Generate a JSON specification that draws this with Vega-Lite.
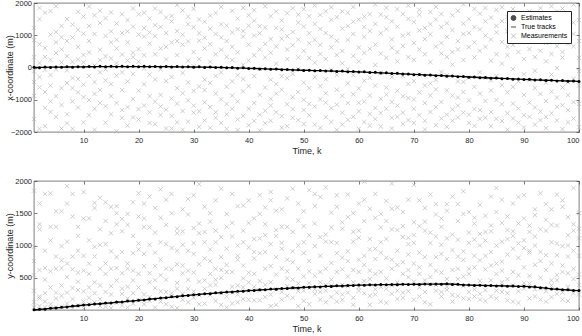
{
"$schema": "https://vega.github.io/schema/vega-lite/v6.json",
"padding": {"left": 4, "top": -2, "right": 0, "bottom": 0},
"background": "white",
"spacing": 20,
"config": {
  "font": "Liberation Sans",
  "view": {"stroke": "#262626", "strokeWidth": 0.6},
  "axis": {"domain": false, "grid": false, "tickSize": -3, "tickColor": "#262626", "tickWidth": 0.6, "labelFontSize": 7.5, "labelColor": "#262626", "titleFontSize": 9, "titleFontWeight": "normal", "titleColor": "#262626", "format": "d"},
  "axisX": {"labelPadding": 7, "titlePadding": 3},
  "axisY": {"labelPadding": 5.5},
  "legend": {"orient": "top-right", "offset": 8, "strokeColor": "#262626", "fillColor": "white", "padding": 3, "labelFontSize": 7, "labelColor": "black", "rowPadding": 1, "symbolSize": 24, "symbolStrokeWidth": 1, "labelOffset": 4, "clipHeight": 8}
},
"datasets": {
"meas": [
{"k":1,"x":-450,"y":760},{"k":1,"x":1230,"y":120},{"k":1,"x":-880,"y":540},{"k":1,"x":320,"y":1850},{"k":1,"x":-1600,"y":300},{"k":1,"x":850,"y":40},{"k":1,"x":-120,"y":980},
{"k":2,"x":1850,"y":1650},{"k":2,"x":-620,"y":180},{"k":2,"x":140,"y":1330},{"k":2,"x":-1900,"y":620},{"k":2,"x":720,"y":210},{"k":2,"x":-300,"y":60},{"k":2,"x":1500,"y":1250},
{"k":3,"x":-1250,"y":920},{"k":3,"x":600,"y":40},{"k":3,"x":-70,"y":1800},{"k":3,"x":1700,"y":470},{"k":3,"x":-760,"y":260},{"k":3,"x":330,"y":650},{"k":3,"x":-1820,"y":130},
{"k":4,"x":1020,"y":1810},{"k":4,"x":-1380,"y":350},{"k":4,"x":-230,"y":90},{"k":4,"x":1750,"y":1290},{"k":4,"x":-560,"y":600},{"k":4,"x":240,"y":1080},{"k":4,"x":-1050,"y":30},
{"k":5,"x":1900,"y":1530},{"k":5,"x":-1530,"y":830},{"k":5,"x":450,"y":270},{"k":5,"x":-890,"y":40},{"k":5,"x":1100,"y":180},{"k":5,"x":-60,"y":640},{"k":5,"x":780,"y":1290},
{"k":6,"x":-1160,"y":990},{"k":6,"x":1290,"y":770},{"k":6,"x":-640,"y":50},{"k":6,"x":560,"y":1530},{"k":6,"x":-1890,"y":380},{"k":6,"x":160,"y":220},{"k":6,"x":940,"y":650},
{"k":7,"x":1500,"y":1920},{"k":7,"x":-1450,"y":1060},{"k":7,"x":-480,"y":270},{"k":7,"x":820,"y":100},{"k":7,"x":-1730,"y":510},{"k":7,"x":350,"y":1650},{"k":7,"x":-90,"y":720},
{"k":8,"x":-1900,"y":1800},{"k":8,"x":930,"y":630},{"k":8,"x":-640,"y":170},{"k":8,"x":180,"y":1450},{"k":8,"x":-1050,"y":20},{"k":8,"x":1330,"y":340},{"k":8,"x":-330,"y":830},
{"k":9,"x":1170,"y":1290},{"k":9,"x":-360,"y":580},{"k":9,"x":250,"y":70},{"k":9,"x":-1240,"y":920},{"k":9,"x":1730,"y":310},{"k":9,"x":-770,"y":440},{"k":9,"x":640,"y":1150},
{"k":10,"x":-1700,"y":1420},{"k":10,"x":390,"y":840},{"k":10,"x":-530,"y":130},{"k":10,"x":1050,"y":1830},{"k":10,"x":-920,"y":290},{"k":10,"x":160,"y":610},{"k":10,"x":1580,"y":20},
{"k":11,"x":820,"y":1080},{"k":11,"x":-1480,"y":190},{"k":11,"x":1290,"y":560},{"k":11,"x":-260,"y":1420},{"k":11,"x":470,"y":90},{"k":11,"x":-1010,"y":720},{"k":11,"x":1890,"y":350},
{"k":12,"x":-1930,"y":1660},{"k":12,"x":1620,"y":1580},{"k":12,"x":-450,"y":260},{"k":12,"x":60,"y":980},{"k":12,"x":-820,"y":120},{"k":12,"x":1040,"y":430},{"k":12,"x":-1280,"y":830},
{"k":13,"x":550,"y":1740},{"k":13,"x":-1100,"y":1010},{"k":13,"x":1380,"y":60},{"k":13,"x":-700,"y":380},{"k":13,"x":230,"y":1250},{"k":13,"x":1760,"y":640},{"k":13,"x":-150,"y":170},
{"k":14,"x":-1710,"y":1380},{"k":14,"x":980,"y":280},{"k":14,"x":-400,"y":720},{"k":14,"x":1530,"y":1020},{"k":14,"x":-1200,"y":50},{"k":14,"x":350,"y":560},{"k":14,"x":-60,"y":1670},
{"k":15,"x":1120,"y":1600},{"k":15,"x":-890,"y":240},{"k":15,"x":1710,"y":910},{"k":15,"x":-1450,"y":640},{"k":15,"x":280,"y":30},{"k":15,"x":-520,"y":1190},{"k":15,"x":780,"y":370},
{"k":16,"x":-1980,"y":1610},{"k":16,"x":590,"y":1500},{"k":16,"x":-250,"y":820},{"k":16,"x":1360,"y":110},{"k":16,"x":-1100,"y":460},{"k":16,"x":860,"y":1330},{"k":16,"x":140,"y":650},
{"k":17,"x":1650,"y":570},{"k":17,"x":-1320,"y":1410},{"k":17,"x":-700,"y":70},{"k":17,"x":400,"y":330},{"k":17,"x":-1560,"y":900},{"k":17,"x":1070,"y":1220},{"k":17,"x":-150,"y":250},
{"k":18,"x":-1230,"y":1490},{"k":18,"x":1470,"y":180},{"k":18,"x":-430,"y":640},{"k":18,"x":780,"y":1320},{"k":18,"x":-1800,"y":360},{"k":18,"x":220,"y":720},{"k":18,"x":1120,"y":40},
{"k":19,"x":460,"y":880},{"k":19,"x":-1550,"y":1150},{"k":19,"x":1830,"y":260},{"k":19,"x":-980,"y":460},{"k":19,"x":320,"y":1670},{"k":19,"x":-200,"y":100},{"k":19,"x":1270,"y":610},
{"k":20,"x":-1610,"y":1810},{"k":20,"x":1020,"y":1450},{"k":20,"x":-720,"y":350},{"k":20,"x":180,"y":560},{"k":20,"x":1650,"y":940},{"k":20,"x":-1290,"y":150},{"k":20,"x":570,"y":1030},
{"k":21,"x":1700,"y":1650},{"k":21,"x":-520,"y":1290},{"k":21,"x":960,"y":90},{"k":21,"x":-1180,"y":680},{"k":21,"x":380,"y":1420},{"k":21,"x":-30,"y":240},{"k":21,"x":1220,"y":870},
{"k":22,"x":-1390,"y":1010},{"k":22,"x":740,"y":1760},{"k":22,"x":-890,"y":430},{"k":22,"x":1520,"y":200},{"k":22,"x":-220,"y":570},{"k":22,"x":1090,"y":1280},{"k":22,"x":-1720,"y":140},
{"k":23,"x":1830,"y":1580},{"k":23,"x":-1060,"y":340},{"k":23,"x":410,"y":1200},{"k":23,"x":-1760,"y":890},{"k":23,"x":970,"y":40},{"k":23,"x":-370,"y":680},{"k":23,"x":1310,"y":460},
{"k":24,"x":-850,"y":1870},{"k":24,"x":1260,"y":290},{"k":24,"x":-1470,"y":1050},{"k":24,"x":590,"y":780},{"k":24,"x":-60,"y":130},{"k":24,"x":1720,"y":1430},{"k":24,"x":-1210,"y":540},
{"k":25,"x":1070,"y":1320},{"k":25,"x":-1310,"y":1710},{"k":25,"x":1550,"y":470},{"k":25,"x":-420,"y":90},{"k":25,"x":640,"y":1020},{"k":25,"x":-1890,"y":640},{"k":25,"x":250,"y":280},
{"k":26,"x":-1890,"y":1800},{"k":26,"x":1430,"y":630},{"k":26,"x":-960,"y":210},{"k":26,"x":780,"y":1500},{"k":26,"x":-300,"y":960},{"k":26,"x":1600,"y":260},{"k":26,"x":-1500,"y":50},
{"k":27,"x":1940,"y":1190},{"k":27,"x":-1120,"y":1260},{"k":27,"x":380,"y":420},{"k":27,"x":-640,"y":710},{"k":27,"x":1130,"y":30},{"k":27,"x":-1700,"y":330},{"k":27,"x":820,"y":920},
{"k":28,"x":-1350,"y":1220},{"k":28,"x":710,"y":1560},{"k":28,"x":-800,"y":570},{"k":28,"x":1770,"y":160},{"k":28,"x":-170,"y":1010},{"k":28,"x":1020,"y":690},{"k":28,"x":-1930,"y":250},
{"k":29,"x":1580,"y":1720},{"k":29,"x":-460,"y":330},{"k":29,"x":810,"y":920},{"k":29,"x":-1680,"y":1480},{"k":29,"x":210,"y":120},{"k":29,"x":-1020,"y":610},{"k":29,"x":1340,"y":470},
{"k":30,"x":-1400,"y":1040},{"k":30,"x":1250,"y":1780},{"k":30,"x":-730,"y":190},{"k":30,"x":480,"y":580},{"k":30,"x":1820,"y":290},{"k":30,"x":-1180,"y":870},{"k":30,"x":40,"y":1270},
{"k":31,"x":830,"y":1950},{"k":31,"x":-1360,"y":230},{"k":31,"x":1490,"y":1190},{"k":31,"x":-590,"y":710},{"k":31,"x":260,"y":440},{"k":31,"x":-1840,"y":1340},{"k":31,"x":1060,"y":90},
{"k":32,"x":-1080,"y":1600},{"k":32,"x":590,"y":460},{"k":32,"x":-1640,"y":800},{"k":32,"x":1420,"y":1210},{"k":32,"x":-380,"y":330},{"k":32,"x":920,"y":100},{"k":32,"x":-700,"y":1050},
{"k":33,"x":1610,"y":760},{"k":33,"x":-1230,"y":1500},{"k":33,"x":180,"y":380},{"k":33,"x":-480,"y":940},{"k":33,"x":1200,"y":230},{"k":33,"x":-1870,"y":560},{"k":33,"x":720,"y":1370},
{"k":34,"x":-1560,"y":1050},{"k":34,"x":1040,"y":390},{"k":34,"x":-260,"y":1700},{"k":34,"x":1690,"y":1230},{"k":34,"x":-810,"y":140},{"k":34,"x":410,"y":640},{"k":34,"x":-1390,"y":470},
{"k":35,"x":1340,"y":1880},{"k":35,"x":-990,"y":620},{"k":35,"x":550,"y":260},{"k":35,"x":-1720,"y":1130},{"k":35,"x":1880,"y":500},{"k":35,"x":-150,"y":80},{"k":35,"x":930,"y":820},
{"k":36,"x":-1450,"y":1290},{"k":36,"x":820,"y":1490},{"k":36,"x":-600,"y":210},{"k":36,"x":1300,"y":590},{"k":36,"x":-1900,"y":40},{"k":36,"x":330,"y":950},{"k":36,"x":-1130,"y":700},
{"k":37,"x":1760,"y":1350},{"k":37,"x":-430,"y":1800},{"k":37,"x":1090,"y":360},{"k":37,"x":-1280,"y":590},{"k":37,"x":640,"y":100},{"k":37,"x":-870,"y":270},{"k":37,"x":230,"y":1140},
{"k":38,"x":-1940,"y":1000},{"k":38,"x":1520,"y":780},{"k":38,"x":-1050,"y":380},{"k":38,"x":470,"y":1610},{"k":38,"x":-240,"y":120},{"k":38,"x":1190,"y":240},{"k":38,"x":-1610,"y":840},
{"k":39,"x":1130,"y":1620},{"k":39,"x":-740,"y":490},{"k":39,"x":1850,"y":170},{"k":39,"x":-1500,"y":1230},{"k":39,"x":80,"y":690},{"k":39,"x":-360,"y":350},{"k":39,"x":960,"y":1050},
{"k":40,"x":-1280,"y":1700},{"k":40,"x":710,"y":290},{"k":40,"x":-580,"y":970},{"k":40,"x":1620,"y":1350},{"k":40,"x":-1790,"y":430},{"k":40,"x":220,"y":160},{"k":40,"x":1300,"y":580},
{"k":41,"x":1450,"y":1420},{"k":41,"x":-1100,"y":800},{"k":41,"x":380,"y":360},{"k":41,"x":-1660,"y":150},{"k":41,"x":990,"y":900},{"k":41,"x":-270,"y":560},{"k":41,"x":1780,"y":1100},
{"k":42,"x":-850,"y":1110},{"k":42,"x":1280,"y":1490},{"k":42,"x":-1460,"y":300},{"k":42,"x":560,"y":880},{"k":42,"x":-1950,"y":1780},{"k":42,"x":1060,"y":150},{"k":42,"x":-40,"y":450},
{"k":43,"x":1900,"y":1590},{"k":43,"x":-1340,"y":1330},{"k":43,"x":730,"y":640},{"k":43,"x":-620,"y":200},{"k":43,"x":1240,"y":390},{"k":43,"x":-1730,"y":900},{"k":43,"x":310,"y":1160},
{"k":44,"x":-1180,"y":1830},{"k":44,"x":880,"y":1700},{"k":44,"x":-380,"y":680},{"k":44,"x":1590,"y":430},{"k":44,"x":-1650,"y":240},{"k":44,"x":460,"y":1020},{"k":44,"x":-970,"y":60},
{"k":45,"x":1230,"y":1150},{"k":45,"x":-510,"y":1540},{"k":45,"x":1740,"y":820},{"k":45,"x":-1390,"y":550},{"k":45,"x":120,"y":1240},{"k":45,"x":-810,"y":320},{"k":45,"x":650,"y":80},
{"k":46,"x":-1870,"y":1290},{"k":46,"x":1460,"y":950},{"k":46,"x":-690,"y":160},{"k":46,"x":890,"y":1560},{"k":46,"x":-270,"y":640},{"k":46,"x":1180,"y":280},{"k":46,"x":-1510,"y":1040},
{"k":47,"x":970,"y":1730},{"k":47,"x":-1140,"y":780},{"k":47,"x":1680,"y":370},{"k":47,"x":-330,"y":1290},{"k":47,"x":560,"y":220},{"k":47,"x":-1820,"y":600},{"k":47,"x":260,"y":490},
{"k":48,"x":-1560,"y":1880},{"k":48,"x":1100,"y":1210},{"k":48,"x":-920,"y":470},{"k":48,"x":1840,"y":740},{"k":48,"x":-200,"y":910},{"k":48,"x":690,"y":340},{"k":48,"x":-1290,"y":190},
{"k":49,"x":1390,"y":1390},{"k":49,"x":-760,"y":1650},{"k":49,"x":310,"y":640},{"k":49,"x":-1630,"y":290},{"k":49,"x":1640,"y":1000},{"k":49,"x":-50,"y":410},{"k":49,"x":870,"y":60},
{"k":50,"x":-1320,"y":1300},{"k":50,"x":520,"y":1530},{"k":50,"x":-1000,"y":300},{"k":50,"x":1270,"y":880},{"k":50,"x":-470,"y":140},{"k":50,"x":1810,"y":520},{"k":50,"x":-1750,"y":1050},
{"k":51,"x":1060,"y":1860},{"k":51,"x":-1480,"y":420},{"k":51,"x":290,"y":1160},{"k":51,"x":-640,"y":760},{"k":51,"x":1590,"y":340},{"k":51,"x":-1130,"y":90},{"k":51,"x":750,"y":600},
{"k":52,"x":-1770,"y":1610},{"k":52,"x":1350,"y":990},{"k":52,"x":-300,"y":250},{"k":52,"x":860,"y":1340},{"k":52,"x":-1210,"y":530},{"k":52,"x":150,"y":1800},{"k":52,"x":1920,"y":320},
{"k":53,"x":1190,"y":1750},{"k":53,"x":-990,"y":1130},{"k":53,"x":1630,"y":590},{"k":53,"x":-580,"y":840},{"k":53,"x":420,"y":160},{"k":53,"x":-1870,"y":280},{"k":53,"x":700,"y":430},
{"k":54,"x":-1540,"y":1170},{"k":54,"x":1070,"y":390},{"k":54,"x":-370,"y":1900},{"k":54,"x":1740,"y":1060},{"k":54,"x":-1090,"y":640},{"k":54,"x":260,"y":300},{"k":54,"x":-800,"y":120},
{"k":55,"x":1480,"y":1510},{"k":55,"x":-1260,"y":1050},{"k":55,"x":620,"y":730},{"k":55,"x":-1690,"y":380},{"k":55,"x":1870,"y":200},{"k":55,"x":-80,"y":470},{"k":55,"x":960,"y":1280},
{"k":56,"x":-1150,"y":1780},{"k":56,"x":830,"y":1600},{"k":56,"x":-690,"y":590},{"k":56,"x":1560,"y":270},{"k":56,"x":-1930,"y":880},{"k":56,"x":390,"y":1040},{"k":56,"x":-230,"y":130},
{"k":57,"x":1740,"y":1360},{"k":57,"x":-1400,"y":810},{"k":57,"x":510,"y":390},{"k":57,"x":-880,"y":1260},{"k":57,"x":1210,"y":630},{"k":57,"x":-1770,"y":160},{"k":57,"x":130,"y":240},
{"k":58,"x":-1620,"y":1440},{"k":58,"x":1290,"y":1790},{"k":58,"x":-490,"y":910},{"k":58,"x":860,"y":520},{"k":58,"x":-1100,"y":270},{"k":58,"x":1700,"y":760},{"k":58,"x":-40,"y":370},
{"k":59,"x":1040,"y":1500},{"k":59,"x":-830,"y":430},{"k":59,"x":1880,"y":1060},{"k":59,"x":-1530,"y":620},{"k":59,"x":360,"y":1210},{"k":59,"x":-240,"y":190},{"k":59,"x":1420,"y":80},
{"k":60,"x":-1360,"y":1650},{"k":60,"x":620,"y":1120},{"k":60,"x":-1900,"y":300},{"k":60,"x":1490,"y":350},{"k":60,"x":-650,"y":780},{"k":60,"x":190,"y":590},{"k":60,"x":-1090,"y":1230},
{"k":61,"x":1580,"y":1990},{"k":61,"x":-1060,"y":1380},{"k":61,"x":950,"y":840},{"k":61,"x":-410,"y":260},{"k":61,"x":1260,"y":450},{"k":61,"x":-1690,"y":700},{"k":61,"x":450,"y":1710},
{"k":62,"x":-1800,"y":1100},{"k":62,"x":1130,"y":610},{"k":62,"x":-320,"y":1570},{"k":62,"x":1650,"y":220},{"k":62,"x":-870,"y":480},{"k":62,"x":580,"y":940},{"k":62,"x":-1440,"y":80},
{"k":63,"x":1350,"y":1430},{"k":63,"x":-1250,"y":1800},{"k":63,"x":710,"y":320},{"k":63,"x":-560,"y":950},{"k":63,"x":1960,"y":790},{"k":63,"x":-1600,"y":240},{"k":63,"x":80,"y":560},
{"k":64,"x":-970,"y":1280},{"k":64,"x":1640,"y":1050},{"k":64,"x":-1410,"y":590},{"k":64,"x":430,"y":1490},{"k":64,"x":-160,"y":360},{"k":64,"x":1060,"y":130},{"k":64,"x":-1830,"y":890},
{"k":65,"x":1850,"y":1380},{"k":65,"x":-620,"y":1690},{"k":65,"x":1190,"y":490},{"k":65,"x":-1280,"y":330},{"k":65,"x":300,"y":810},{"k":65,"x":-840,"y":110},{"k":65,"x":1560,"y":1100},
{"k":66,"x":-1560,"y":1250},{"k":66,"x":870,"y":1960},{"k":66,"x":-300,"y":640},{"k":66,"x":1430,"y":780},{"k":66,"x":-1070,"y":380},{"k":66,"x":610,"y":250},{"k":66,"x":-1890,"y":1570},
{"k":67,"x":1270,"y":1590},{"k":67,"x":-1180,"y":920},{"k":67,"x":480,"y":1240},{"k":67,"x":-720,"y":430},{"k":67,"x":1810,"y":300},{"k":67,"x":-1530,"y":170},{"k":67,"x":190,"y":700},
{"k":68,"x":-1400,"y":1520},{"k":68,"x":990,"y":560},{"k":68,"x":-890,"y":1130},{"k":68,"x":1660,"y":1300},{"k":68,"x":-260,"y":270},{"k":68,"x":670,"y":190},{"k":68,"x":-1750,"y":740},
{"k":69,"x":1510,"y":1020},{"k":69,"x":-950,"y":1710},{"k":69,"x":1050,"y":860},{"k":69,"x":-1630,"y":510},{"k":69,"x":320,"y":290},{"k":69,"x":-510,"y":1120},{"k":69,"x":1920,"y":620},
{"k":70,"x":-1280,"y":1360},{"k":70,"x":760,"y":1940},{"k":70,"x":-1720,"y":1160},{"k":70,"x":1410,"y":440},{"k":70,"x":-420,"y":720},{"k":70,"x":240,"y":1040},{"k":70,"x":-990,"y":160},
{"k":71,"x":1790,"y":1700},{"k":71,"x":-1480,"y":660},{"k":71,"x":560,"y":1300},{"k":71,"x":-770,"y":350},{"k":71,"x":1150,"y":560},{"k":71,"x":-220,"y":890},{"k":71,"x":1640,"y":210},
{"k":72,"x":-1650,"y":1230},{"k":72,"x":1230,"y":1370},{"k":72,"x":-560,"y":460},{"k":72,"x":880,"y":820},{"k":72,"x":-1100,"y":1580},{"k":72,"x":410,"y":280},{"k":72,"x":-1920,"y":120},
{"k":73,"x":1030,"y":1790},{"k":73,"x":-870,"y":1040},{"k":73,"x":1720,"y":700},{"k":73,"x":-1380,"y":400},{"k":73,"x":170,"y":1200},{"k":73,"x":-500,"y":90},{"k":73,"x":1340,"y":510},
{"k":74,"x":-1790,"y":1640},{"k":74,"x":1490,"y":1140},{"k":74,"x":-380,"y":820},{"k":74,"x":650,"y":390},{"k":74,"x":-1230,"y":300},{"k":74,"x":1880,"y":1480},{"k":74,"x":-680,"y":610},
{"k":75,"x":1250,"y":1290},{"k":75,"x":-1070,"y":1420},{"k":75,"x":760,"y":580},{"k":75,"x":-1580,"y":870},{"k":75,"x":1660,"y":280},{"k":75,"x":-140,"y":210},{"k":75,"x":440,"y":1010},
{"k":76,"x":-1460,"y":1540},{"k":76,"x":950,"y":480},{"k":76,"x":-710,"y":1110},{"k":76,"x":1370,"y":790},{"k":76,"x":-1840,"y":360},{"k":76,"x":330,"y":1640},{"k":76,"x":-240,"y":310},
{"k":77,"x":1620,"y":1170},{"k":77,"x":-1300,"y":1760},{"k":77,"x":480,"y":930},{"k":77,"x":-870,"y":400},{"k":77,"x":1160,"y":230},{"k":77,"x":-1650,"y":620},{"k":77,"x":90,"y":130},
{"k":78,"x":-1180,"y":1380},{"k":78,"x":1760,"y":1640},{"k":78,"x":-430,"y":480},{"k":78,"x":820,"y":1090},{"k":78,"x":-1550,"y":220},{"k":78,"x":560,"y":640},{"k":78,"x":-930,"y":830},
{"k":79,"x":1360,"y":1840},{"k":79,"x":-760,"y":1490},{"k":79,"x":1960,"y":520},{"k":79,"x":-1400,"y":910},{"k":79,"x":230,"y":370},{"k":79,"x":-450,"y":180},{"k":79,"x":1040,"y":780},
{"k":80,"x":-1720,"y":1520},{"k":80,"x":1070,"y":1200},{"k":80,"x":-1020,"y":280},{"k":80,"x":1510,"y":640},{"k":80,"x":-310,"y":1040},{"k":80,"x":630,"y":170},{"k":80,"x":-1460,"y":560},
{"k":81,"x":1820,"y":1430},{"k":81,"x":-1290,"y":660},{"k":81,"x":780,"y":1090},{"k":81,"x":-600,"y":1340},{"k":81,"x":1250,"y":320},{"k":81,"x":-1810,"y":210},{"k":81,"x":310,"y":840},
{"k":82,"x":-1590,"y":1180},{"k":82,"x":1180,"y":1630},{"k":82,"x":-810,"y":450},{"k":82,"x":520,"y":770},{"k":82,"x":-1320,"y":1000},{"k":82,"x":1670,"y":250},{"k":82,"x":-150,"y":160},
{"k":83,"x":990,"y":1460},{"k":83,"x":-1560,"y":1210},{"k":83,"x":1430,"y":840},{"k":83,"x":-320,"y":630},{"k":83,"x":640,"y":310},{"k":83,"x":-1040,"y":140},{"k":83,"x":1850,"y":1080},
{"k":84,"x":-1380,"y":1760},{"k":84,"x":1550,"y":1310},{"k":84,"x":-710,"y":900},{"k":84,"x":870,"y":460},{"k":84,"x":-1820,"y":690},{"k":84,"x":210,"y":1220},{"k":84,"x":-400,"y":210},
{"k":85,"x":1290,"y":1890},{"k":85,"x":-1010,"y":1520},{"k":85,"x":1790,"y":560},{"k":85,"x":-1590,"y":300},{"k":85,"x":410,"y":720},{"k":85,"x":-260,"y":1000},{"k":85,"x":1090,"y":180},
{"k":86,"x":-1660,"y":1060},{"k":86,"x":790,"y":1350},{"k":86,"x":-1140,"y":750},{"k":86,"x":1440,"y":280},{"k":86,"x":-550,"y":430},{"k":86,"x":120,"y":610},{"k":86,"x":1870,"y":1710},
{"k":87,"x":1570,"y":1240},{"k":87,"x":-1420,"y":1450},{"k":87,"x":640,"y":480},{"k":87,"x":-770,"y":860},{"k":87,"x":1120,"y":1100},{"k":87,"x":-1930,"y":150},{"k":87,"x":380,"y":260},
{"k":88,"x":-1120,"y":1650},{"k":88,"x":1340,"y":590},{"k":88,"x":-600,"y":1220},{"k":88,"x":1810,"y":380},{"k":88,"x":-1580,"y":950},{"k":88,"x":700,"y":1150},{"k":88,"x":-50,"y":130},
{"k":89,"x":1080,"y":1340},{"k":89,"x":-1270,"y":1750},{"k":89,"x":1650,"y":1030},{"k":89,"x":-430,"y":290},{"k":89,"x":480,"y":810},{"k":89,"x":-1710,"y":540},{"k":89,"x":1290,"y":110},
{"k":90,"x":-1480,"y":1420},{"k":90,"x":930,"y":1780},{"k":90,"x":-850,"y":960},{"k":90,"x":1550,"y":660},{"k":90,"x":-1860,"y":330},{"k":90,"x":260,"y":420},{"k":90,"x":-210,"y":1080},
{"k":91,"x":1740,"y":1310},{"k":91,"x":-1090,"y":890},{"k":91,"x":570,"y":1210},{"k":91,"x":-1530,"y":410},{"k":91,"x":1250,"y":530},{"k":91,"x":-390,"y":180},{"k":91,"x":880,"y":920},
{"k":92,"x":-1770,"y":1560},{"k":92,"x":1480,"y":1140},{"k":92,"x":-640,"y":700},{"k":92,"x":320,"y":1470},{"k":92,"x":-1240,"y":320},{"k":92,"x":1080,"y":210},{"k":92,"x":-100,"y":1000},
{"k":93,"x":1160,"y":1810},{"k":93,"x":-1360,"y":1250},{"k":93,"x":1840,"y":760},{"k":93,"x":-820,"y":500},{"k":93,"x":520,"y":900},{"k":93,"x":-1630,"y":160},{"k":93,"x":1390,"y":330},
{"k":94,"x":-1040,"y":1400},{"k":94,"x":760,"y":1640},{"k":94,"x":-1530,"y":850},{"k":94,"x":1620,"y":1230},{"k":94,"x":-470,"y":290},{"k":94,"x":190,"y":620},{"k":94,"x":-1880,"y":130},
{"k":95,"x":1510,"y":1560},{"k":95,"x":-750,"y":1320},{"k":95,"x":1010,"y":720},{"k":95,"x":-1420,"y":460},{"k":95,"x":420,"y":1050},{"k":95,"x":-220,"y":380},{"k":95,"x":1900,"y":200},
{"k":96,"x":-1640,"y":1790},{"k":96,"x":1260,"y":1030},{"k":96,"x":-930,"y":540},{"k":96,"x":660,"y":1310},{"k":96,"x":-1220,"y":250},{"k":96,"x":1740,"y":460},{"k":96,"x":-20,"y":850},
{"k":97,"x":1830,"y":1700},{"k":97,"x":-1170,"y":1600},{"k":97,"x":480,"y":590},{"k":97,"x":-620,"y":990},{"k":97,"x":1350,"y":270},{"k":97,"x":-1910,"y":690},{"k":97,"x":310,"y":160},
{"k":98,"x":-1320,"y":1160},{"k":98,"x":1110,"y":1440},{"k":98,"x":-460,"y":360},{"k":98,"x":1600,"y":830},{"k":98,"x":-1700,"y":1000},{"k":98,"x":740,"y":570},{"k":98,"x":-860,"y":140},
{"k":99,"x":1040,"y":1890},{"k":99,"x":-1580,"y":1330},{"k":99,"x":1390,"y":1230},{"k":99,"x":-350,"y":480},{"k":99,"x":660,"y":920},{"k":99,"x":-1070,"y":260},{"k":99,"x":1950,"y":640},
{"k":100,"x":-1850,"y":1500},{"k":100,"x":820,"y":1260},{"k":100,"x":-560,"y":840},{"k":100,"x":1470,"y":550},{"k":100,"x":-1130,"y":390},{"k":100,"x":300,"y":1110},{"k":100,"x":-110,"y":240}
],
"trk": [
{"k":1,"x":0,"y":0,"ex":8,"ey":2},{"k":2,"x":3,"y":8,"ex":-5,"ey":10},{"k":3,"x":6,"y":16,"ex":12,"ey":13},{"k":4,"x":9,"y":24,"ex":2,"ey":27},{"k":5,"x":11,"y":33,"ex":18,"ey":30},
{"k":6,"x":14,"y":41,"ex":9,"ey":44},{"k":7,"x":16,"y":50,"ex":23,"ey":47},{"k":8,"x":18,"y":58,"ex":11,"ey":61},{"k":9,"x":20,"y":66,"ex":27,"ey":64},{"k":10,"x":22,"y":75,"ex":15,"ey":78},
{"k":11,"x":24,"y":82,"ex":31,"ey":80},{"k":12,"x":26,"y":90,"ex":19,"ey":93},{"k":13,"x":27,"y":97,"ex":35,"ey":95},{"k":14,"x":28,"y":105,"ex":20,"ey":108},{"k":15,"x":29,"y":112,"ex":36,"ey":110},
{"k":16,"x":30,"y":120,"ex":24,"ey":123},{"k":17,"x":30,"y":127,"ex":38,"ey":125},{"k":18,"x":30,"y":135,"ex":22,"ey":138},{"k":19,"x":30,"y":142,"ex":37,"ey":140},{"k":20,"x":30,"y":150,"ex":23,"ey":153},
{"k":21,"x":29,"y":158,"ex":36,"ey":155},{"k":22,"x":28,"y":167,"ex":21,"ey":170},{"k":23,"x":27,"y":175,"ex":34,"ey":172},{"k":24,"x":26,"y":184,"ex":19,"ey":187},{"k":25,"x":25,"y":192,"ex":33,"ey":189},
{"k":26,"x":24,"y":201,"ex":17,"ey":204},{"k":27,"x":22,"y":210,"ex":30,"ey":207},{"k":28,"x":20,"y":218,"ex":13,"ey":221},{"k":29,"x":18,"y":227,"ex":26,"ey":224},{"k":30,"x":16,"y":235,"ex":9,"ey":238},
{"k":31,"x":13,"y":242,"ex":21,"ey":239},{"k":32,"x":10,"y":249,"ex":3,"ey":252},{"k":33,"x":7,"y":256,"ex":15,"ey":253},{"k":34,"x":4,"y":263,"ex":-3,"ey":266},{"k":35,"x":0,"y":270,"ex":8,"ey":267},
{"k":36,"x":-4,"y":276,"ex":-11,"ey":279},{"k":37,"x":-9,"y":282,"ex":-1,"ey":279},{"k":38,"x":-14,"y":288,"ex":-21,"ey":291},{"k":39,"x":-19,"y":294,"ex":-11,"ey":291},{"k":40,"x":-25,"y":300,"ex":-32,"ey":303},
{"k":41,"x":-31,"y":305,"ex":-23,"ey":302},{"k":42,"x":-37,"y":310,"ex":-44,"ey":313},{"k":43,"x":-43,"y":316,"ex":-35,"ey":313},{"k":44,"x":-49,"y":321,"ex":-56,"ey":324},{"k":45,"x":-55,"y":326,"ex":-47,"ey":323},
{"k":46,"x":-61,"y":331,"ex":-68,"ey":334},{"k":47,"x":-67,"y":336,"ex":-59,"ey":333},{"k":48,"x":-73,"y":341,"ex":-80,"ey":344},{"k":49,"x":-79,"y":345,"ex":-71,"ey":342},{"k":50,"x":-85,"y":350,"ex":-92,"ey":353},
{"k":51,"x":-90,"y":354,"ex":-82,"ey":351},{"k":52,"x":-95,"y":358,"ex":-102,"ey":361},{"k":53,"x":-100,"y":361,"ex":-92,"ey":358},{"k":54,"x":-105,"y":365,"ex":-112,"ey":368},{"k":55,"x":-110,"y":368,"ex":-102,"ey":365},
{"k":56,"x":-115,"y":372,"ex":-122,"ey":375},{"k":57,"x":-120,"y":375,"ex":-112,"ey":372},{"k":58,"x":-125,"y":378,"ex":-132,"ey":381},{"k":59,"x":-130,"y":382,"ex":-122,"ey":379},{"k":60,"x":-135,"y":385,"ex":-142,"ey":388},
{"k":61,"x":-142,"y":387,"ex":-134,"ey":384},{"k":62,"x":-150,"y":389,"ex":-157,"ey":392},{"k":63,"x":-158,"y":390,"ex":-150,"ey":387},{"k":64,"x":-166,"y":392,"ex":-173,"ey":395},{"k":65,"x":-174,"y":393,"ex":-166,"ey":390},
{"k":66,"x":-182,"y":394,"ex":-189,"ey":397},{"k":67,"x":-190,"y":395,"ex":-182,"ey":392},{"k":68,"x":-198,"y":396,"ex":-205,"ey":399},{"k":69,"x":-206,"y":397,"ex":-198,"ey":394},{"k":70,"x":-214,"y":398,"ex":-221,"ey":401},
{"k":71,"x":-222,"y":399,"ex":-214,"ey":396},{"k":72,"x":-230,"y":400,"ex":-237,"ey":403},{"k":73,"x":-238,"y":401,"ex":-230,"ey":398},{"k":74,"x":-246,"y":402,"ex":-253,"ey":405},{"k":75,"x":-254,"y":403,"ex":-246,"ey":400},
{"k":76,"x":-262,"y":404,"ex":-269,"ey":407},{"k":77,"x":-270,"y":400,"ex":-262,"ey":397},{"k":78,"x":-278,"y":395,"ex":-285,"ey":398},{"k":79,"x":-286,"y":390,"ex":-278,"ey":387},{"k":80,"x":-294,"y":386,"ex":-301,"ey":389},
{"k":81,"x":-302,"y":384,"ex":-294,"ey":381},{"k":82,"x":-310,"y":382,"ex":-317,"ey":385},{"k":83,"x":-318,"y":380,"ex":-310,"ey":377},{"k":84,"x":-326,"y":378,"ex":-333,"ey":381},{"k":85,"x":-333,"y":376,"ex":-325,"ey":373},
{"k":86,"x":-340,"y":374,"ex":-347,"ey":377},{"k":87,"x":-347,"y":372,"ex":-339,"ey":369},{"k":88,"x":-354,"y":370,"ex":-361,"ey":373},{"k":89,"x":-361,"y":367,"ex":-353,"ey":364},{"k":90,"x":-368,"y":365,"ex":-375,"ey":368},
{"k":91,"x":-375,"y":361,"ex":-367,"ey":358},{"k":92,"x":-382,"y":356,"ex":-389,"ey":359},{"k":93,"x":-389,"y":348,"ex":-381,"ey":345},{"k":94,"x":-396,"y":338,"ex":-403,"ey":341},{"k":95,"x":-402,"y":328,"ex":-394,"ey":325},
{"k":96,"x":-408,"y":322,"ex":-415,"ey":325},{"k":97,"x":-414,"y":316,"ex":-406,"ey":313},{"k":98,"x":-419,"y":310,"ex":-426,"ey":313},{"k":99,"x":-424,"y":305,"ex":-416,"ey":302},{"k":100,"x":-428,"y":300,"ex":-435,"ey":303}
]
},
"vconcat": [
{
  "width": 545, "height": 129,
  "layer": [
    {"data": {"name": "meas"}, "mark": {"type": "point", "filled": false, "size": 18, "strokeWidth": 0.8, "clip": false},
     "encoding": {
       "x": {"field": "k", "type": "quantitative", "scale": {"domain": [1, 100], "nice": false, "zero": false}, "axis": {"values": [10,20,30,40,50,60,70,80,90,100], "title": "Time, k"}},
       "y": {"field": "x", "type": "quantitative", "scale": {"domain": [-2000, 2000], "nice": false}, "axis": {"values": [-2000,-1000,0,1000,2000], "title": "x-coordinate (m)", "titleX": -25, "titleBaseline": "middle"}},
       "color": {"datum": "Measurements", "scale": {"domain": ["Estimates","True tracks","Measurements"], "range": ["#000000","#000000","#a8a8a8"]}, "legend": {"title": null}},
       "shape": {"datum": "Measurements", "scale": {"domain": ["Estimates","True tracks","Measurements"], "range": ["circle","stroke","M-1,-1L1,1M-1,1L1,-1"]}, "legend": {"title": null}}
     }},
    {"data": {"name": "trk"}, "mark": {"type": "line", "strokeWidth": 1.3},
     "encoding": {
       "x": {"field": "k", "type": "quantitative", "axis": {"orient": "top", "labels": false, "title": null, "values": [10,20,30,40,50,60,70,80,90,100]}},
       "y": {"field": "x", "type": "quantitative", "axis": {"orient": "right", "labels": false, "title": null, "values": [-2000,-1000,0,1000,2000]}},
       "color": {"datum": "True tracks"}
     }},
    {"data": {"name": "trk"}, "mark": {"type": "point", "filled": true, "opacity": 1, "size": 9},
     "encoding": {
       "x": {"field": "k", "type": "quantitative", "axis": null},
       "y": {"field": "ex", "type": "quantitative", "axis": null},
       "color": {"datum": "Estimates"},
       "shape": {"datum": "Estimates"}
     }}
  ],
  "resolve": {"axis": {"x": "independent", "y": "independent"}}
},
{
  "width": 545, "height": 129,
  "layer": [
    {"data": {"name": "meas"}, "mark": {"type": "point", "filled": false, "size": 18, "strokeWidth": 0.8, "clip": false},
     "encoding": {
       "x": {"field": "k", "type": "quantitative", "scale": {"domain": [1, 100], "nice": false, "zero": false}, "axis": {"values": [10,20,30,40,50,60,70,80,90,100], "title": "Time, k"}},
       "y": {"field": "y", "type": "quantitative", "scale": {"domain": [0, 2000], "nice": false}, "axis": {"values": [500,1000,1500,2000], "title": "y-coordinate (m)", "titleX": -25, "titleBaseline": "middle"}},
       "color": {"datum": "Measurements", "scale": {"domain": ["Estimates","True tracks","Measurements"], "range": ["#000000","#000000","#a8a8a8"]}, "legend": null},
       "shape": {"datum": "Measurements", "scale": {"domain": ["Estimates","True tracks","Measurements"], "range": ["circle","stroke","M-1,-1L1,1M-1,1L1,-1"]}, "legend": null}
     }},
    {"data": {"name": "trk"}, "mark": {"type": "line", "strokeWidth": 1.3},
     "encoding": {
       "x": {"field": "k", "type": "quantitative", "axis": {"orient": "top", "labels": false, "title": null, "values": [10,20,30,40,50,60,70,80,90,100]}},
       "y": {"field": "y", "type": "quantitative", "axis": {"orient": "right", "labels": false, "title": null, "values": [500,1000,1500,2000]}},
       "color": {"datum": "True tracks", "legend": null}
     }},
    {"data": {"name": "trk"}, "mark": {"type": "point", "filled": true, "opacity": 1, "size": 9},
     "encoding": {
       "x": {"field": "k", "type": "quantitative", "axis": null},
       "y": {"field": "ey", "type": "quantitative", "axis": null},
       "color": {"datum": "Estimates", "legend": null},
       "shape": {"datum": "Estimates", "legend": null}
     }}
  ],
  "resolve": {"axis": {"x": "independent", "y": "independent"}}
}
],
"resolve": {"scale": {"color": "independent", "shape": "independent"}, "legend": {"color": "independent", "shape": "independent"}}
}
